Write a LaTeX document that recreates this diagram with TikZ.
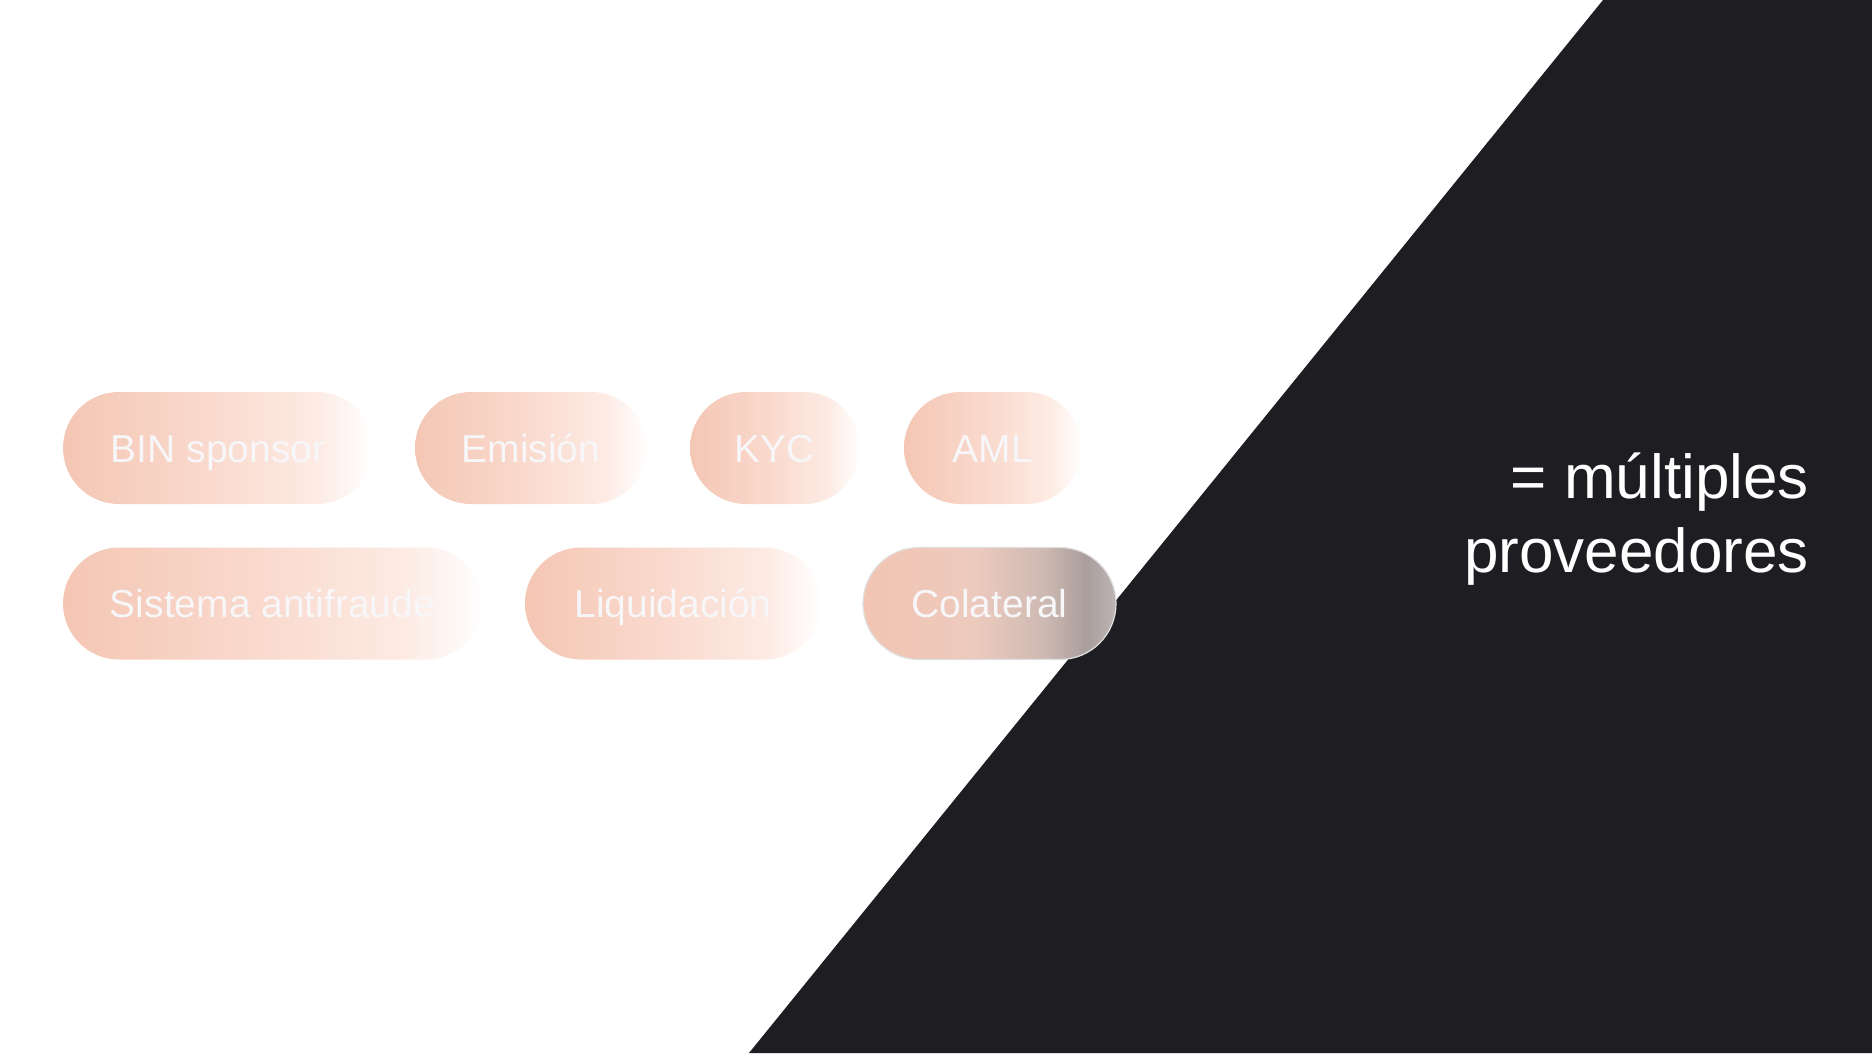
\documentclass[tikz,border=0pt]{standalone}
\usepackage{fontspec}
\setmainfont{Liberation Sans}
\definecolor{darkbg}{HTML}{1E1D22}
\definecolor{pkA}{HTML}{F4C6B4}
\definecolor{pkB}{HTML}{FADBCF}
\definecolor{pkC}{HTML}{FDEBE4}
\definecolor{coA}{HTML}{F2C4B2}
\definecolor{coB}{HTML}{EDCABE}
\definecolor{coC}{HTML}{CDB9B2}
\definecolor{coD}{HTML}{AA9E9C}
\definecolor{coE}{HTML}{BDB4B3}
\definecolor{pilltext}{HTML}{F7F6F8}
\pgfdeclarehorizontalshading{pillfade}{100bp}{color(0bp)=(pkA); color(25bp)=(pkA); color(50bp)=(pkB); color(66bp)=(pkC); color(75bp)=(white); color(100bp)=(white)}
\pgfdeclarehorizontalshading{colatfade}{100bp}{color(0bp)=(coA); color(25bp)=(coA); color(47bp)=(coB); color(61bp)=(coC); color(69bp)=(coD); color(75bp)=(coE); color(100bp)=(coE)}
\tikzset{
  pill/.style={shade, shading=pillfade, rounded corners=56bp, minimum height=112bp,
    inner sep=0pt, text height=28bp, text depth=0pt, text=pilltext,
    font=\fontsize{39bp}{47bp}\selectfont},
  glasspill/.style={pill, shading=colatfade, draw=white!88!black, line width=1.2bp},
  bigtext/.style={text=white, inner sep=0pt, font=\fontsize{62bp}{73bp}\selectfont}
}
\begin{document}
\begin{tikzpicture}[x=1bp,y=-1bp]
\useasboundingbox (0,0) rectangle (1872,1053);
\fill[white] (0,0) rectangle (1872,1053);
\fill[darkbg] (1603,0) -- (1872,0) -- (1872,1053) -- (749,1053) -- cycle;
% row 1
\node[pill, minimum width=310bp] (bin) at (218,448) {BIN sponsor};
\node[pill, minimum width=232bp] (emi) at (531,448) {Emisión};
\node[pill, minimum width=170bp] (kyc) at (775,448) {KYC};
\node[pill, minimum width=178bp] (aml) at (993,448) {AML};
% row 2
\node[pill, minimum width=419bp] (sis) at (272.5,603.5) {Sistema antifraude};
\node[pill, minimum width=296bp] (liq) at (673,603.5) {Liquidación};
\node[glasspill, minimum width=253bp] (col) at (989.5,603.5) {Colateral};
% right text
\node[bigtext, anchor=base east] (t1) at (1809,498) {= múltiples};
\node[bigtext, anchor=base east] (t2) at (1809,572) {proveedores};
\end{tikzpicture}
\end{document}
